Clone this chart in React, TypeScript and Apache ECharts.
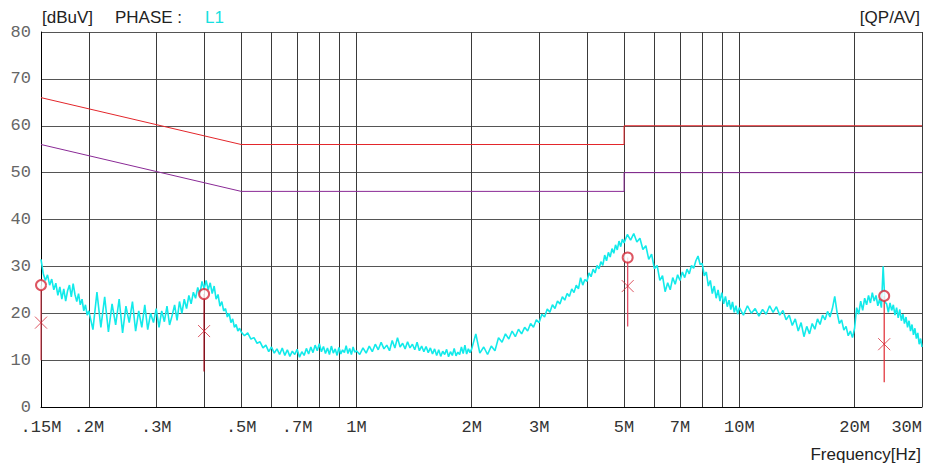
import React, { useEffect, useRef } from "react";
import * as echarts from "echarts";

// ---- axis definitions ----
const gridFreq = [0.15, 0.2, 0.3, 0.4, 0.5, 0.6, 0.7, 0.8, 0.9, 1, 2, 3, 4, 5, 6, 7, 8, 9, 10, 20, 30];
const labelFreq = [0.15, 0.2, 0.3, 0.5, 0.7, 1, 2, 3, 5, 7, 10, 20, 30];

// ---- limit lines (MHz, dBuV) ----
const qpLimitFreq = [0.15, 0.5, 5, 5, 30];
const qpLimitLevel = [66, 56, 56, 60, 60];
const avLimitFreq = [0.15, 0.5, 5, 5, 30];
const avLimitLevel = [56, 46, 46, 50, 50];

// ---- peak measurements ----
const peakFreq = [0.15, 0.4, 5.11, 23.9];
const peakQP = [26.0, 24.1, 31.9, 23.7];
const peakAV = [18.0, 16.2, 25.8, 13.4];
const peakStemLow = [10.0, 7.6, 17.2, 5.3];

// ---- measured trace (MHz) ----
const traceFreq = [
  0.150, 0.152, 0.154, 0.156, 0.158, 0.160, 0.162, 0.164, 0.166, 0.168,
  0.170, 0.172, 0.174, 0.176, 0.178, 0.180, 0.182, 0.184, 0.186, 0.188,
  0.190, 0.192, 0.194, 0.196, 0.198,
  0.200, 0.205, 0.210, 0.215, 0.220, 0.225, 0.230, 0.235, 0.240, 0.245,
  0.250, 0.255, 0.260, 0.265, 0.270, 0.275, 0.280, 0.285, 0.290, 0.295,
  0.300, 0.305, 0.310, 0.315, 0.320, 0.325, 0.330, 0.335, 0.340, 0.345,
  0.350, 0.355, 0.360, 0.365, 0.370, 0.375, 0.380, 0.385, 0.390, 0.395,
  0.400, 0.405, 0.410, 0.415, 0.420, 0.425, 0.430, 0.435, 0.440, 0.445,
  0.450, 0.455, 0.460, 0.465, 0.470, 0.475, 0.480, 0.485, 0.490, 0.495,
  0.50, 0.51, 0.52, 0.53, 0.54, 0.55, 0.56, 0.57, 0.58, 0.59,
  0.60, 0.61, 0.62, 0.63, 0.64, 0.65, 0.66, 0.67, 0.68, 0.69,
  0.70, 0.71, 0.72, 0.73, 0.74, 0.75, 0.76, 0.77, 0.78, 0.79,
  0.80, 0.81, 0.82, 0.83, 0.84, 0.85, 0.86, 0.87, 0.88, 0.89,
  0.90, 0.91, 0.92, 0.93, 0.94, 0.95, 0.96, 0.97, 0.98, 0.99,
  1.00, 1.02, 1.04, 1.06, 1.08, 1.10, 1.12, 1.14, 1.16, 1.18,
  1.20, 1.22, 1.24, 1.26, 1.28, 1.30, 1.32, 1.34, 1.36, 1.38,
  1.40, 1.42, 1.44, 1.46, 1.48, 1.50, 1.52, 1.54, 1.56, 1.58,
  1.60, 1.62, 1.64, 1.66, 1.68, 1.70, 1.72, 1.74, 1.76, 1.78,
  1.80, 1.82, 1.84, 1.86, 1.88, 1.90, 1.92, 1.94, 1.96, 1.98,
  2.00, 2.05, 2.10, 2.15, 2.20, 2.25, 2.30, 2.35, 2.40, 2.45,
  2.50, 2.55, 2.60, 2.65, 2.70, 2.75, 2.80, 2.85, 2.90, 2.95,
  3.00, 3.05, 3.10, 3.15, 3.20, 3.25, 3.30, 3.35, 3.40, 3.45,
  3.50, 3.55, 3.60, 3.65, 3.70, 3.75, 3.80, 3.85, 3.90, 3.95,
  4.00, 4.05, 4.10, 4.15, 4.20, 4.25, 4.30, 4.35, 4.40, 4.45,
  4.50, 4.55, 4.60, 4.65, 4.70, 4.75, 4.80, 4.85, 4.90, 4.95,
  5.0, 5.1, 5.2, 5.3, 5.4, 5.5, 5.6, 5.7, 5.8, 5.9,
  6.0, 6.1, 6.2, 6.3, 6.4, 6.5, 6.6, 6.7, 6.8, 6.9,
  7.0, 7.1, 7.2, 7.3, 7.4, 7.5, 7.6, 7.7, 7.8, 7.9,
  8.0, 8.1, 8.2, 8.3, 8.4, 8.5, 8.6, 8.7, 8.8, 8.9,
  9.0, 9.1, 9.2, 9.3, 9.4, 9.5, 9.6, 9.7, 9.8, 9.9,
  10.00, 10.25, 10.50, 10.75, 11.00, 11.25, 11.50, 11.75,
  12.00, 12.25, 12.50, 12.75, 13.00, 13.25, 13.50, 13.75,
  14.00, 14.25, 14.50, 14.75, 15.00, 15.25, 15.50, 15.75,
  16.00, 16.25, 16.50, 16.75, 17.00, 17.25, 17.50, 17.75,
  18.00, 18.25, 18.50, 18.75, 19.00, 19.25, 19.50, 19.75,
  20.00, 20.25, 20.50, 20.75, 21.00, 21.25, 21.50, 21.75,
  22.00, 22.25, 22.50, 22.75, 23.00, 23.25, 23.50, 23.75,
  24.00, 24.25, 24.50, 24.75, 25.00, 25.25, 25.50, 25.75,
  26.00, 26.25, 26.50, 26.75, 27.00, 27.25, 27.50, 27.75,
  28.00, 28.25, 28.50, 28.75, 29.00, 29.25, 29.50, 29.75,
  30.00,
];

// ---- measured trace (dBuV) ----
const traceLevel = [
  31.5, 28.5, 27.0, 28.2, 26.0, 27.3, 25.0, 26.4, 23.8, 25.6,
  23.0, 25.2, 22.6, 24.8, 26.0, 23.5, 26.3, 24.0, 22.5, 24.2,
  21.8, 23.0, 20.5, 21.8, 19.6,
  20.5, 16.5, 24.5, 17.0, 23.5, 16.0, 22.0, 17.5, 23.0, 15.8,
  21.5, 18.0, 22.5, 16.2, 20.5, 17.0, 21.8, 16.5, 20.0, 18.0,
  21.0, 17.0, 20.5, 18.2, 21.5, 17.5, 19.5, 21.8, 18.5, 22.5,
  20.0, 23.0, 21.0, 23.8, 22.0, 24.5, 23.2, 25.5, 24.0, 26.8,
  25.2, 27.0, 25.0, 26.5, 24.2, 25.8, 23.0, 24.0, 21.5, 22.5,
  20.5, 21.0, 19.2, 20.0, 18.0, 18.8, 17.0, 17.6, 16.2, 16.8,
  16.0, 15.2, 15.8, 14.5, 14.8, 13.6, 13.9, 12.6, 13.2, 11.8,
  12.8, 11.5, 12.4, 11.2, 12.6, 11.0, 12.2, 10.8, 11.9, 11.2,
  12.3, 10.6, 11.8, 11.0, 12.5, 11.3, 12.8, 11.6, 13.2, 12.0,
  13.5, 11.8, 12.9, 11.4, 12.6, 11.2, 13.0, 11.5, 12.4, 11.0,
  12.7, 11.3, 12.2, 11.6, 13.1, 11.4, 12.5, 11.2, 12.8, 11.7,
  12.0, 11.2, 12.6, 11.5, 13.0, 11.8, 13.4, 12.2, 13.8, 12.4,
  13.2, 12.0, 14.2, 12.6, 14.8, 12.8, 13.6, 12.4, 13.9, 12.6,
  13.4, 12.2, 13.8, 12.0, 13.0, 11.8, 12.9, 11.6, 12.6, 11.3,
  12.4, 11.0, 12.2, 10.8, 11.9, 11.2, 12.3, 10.7, 11.8, 11.0,
  12.5, 10.9, 11.7, 11.2, 12.8, 11.4, 13.2, 11.3, 12.4, 11.6,
  12.4, 15.6, 11.5, 12.8, 11.2, 13.0, 12.0, 14.8, 13.8, 15.6,
  14.5, 16.2, 15.0, 16.6, 15.6, 17.0, 16.2, 17.8, 17.0, 18.6,
  18.0, 19.8, 19.2, 20.9, 20.2, 21.8, 21.0, 22.6, 22.0, 23.5,
  22.8, 24.2, 23.6, 25.2, 24.4, 26.0, 25.2, 27.6, 26.0, 27.2,
  26.8, 28.6, 27.8, 29.4, 28.6, 30.2, 29.5, 31.0, 30.2, 32.4,
  31.2, 33.0, 32.0, 33.8, 32.8, 34.6, 33.5, 35.4, 34.2, 35.8,
  35.0, 36.8, 35.6, 37.0, 35.2, 36.0, 33.6, 34.4, 31.5, 32.6,
  29.5, 30.2, 27.0, 28.0, 24.6, 26.5, 25.0, 27.6, 26.2, 28.2,
  27.0, 28.8, 27.6, 29.4, 28.4, 30.2, 29.6, 31.2, 32.2, 30.4,
  30.6, 28.0, 28.8, 25.8, 27.0, 24.2, 25.8, 23.2, 25.0, 22.6,
  24.4, 22.0, 23.6, 21.4, 22.8, 20.8, 22.4, 20.2, 21.6, 19.8,
  21.2, 19.6, 21.6, 20.0, 21.0, 19.4, 20.8, 19.8,
  21.6, 20.2, 21.4, 19.6, 20.6, 18.6, 19.6, 17.4,
  18.8, 16.2, 18.0, 15.0, 17.2, 15.6, 17.8, 16.6,
  18.8, 17.6, 19.6, 18.6, 20.4, 19.2, 21.0, 23.6,
  20.2, 17.8, 18.6, 16.4, 17.2, 15.2, 16.2, 14.8,
  16.8, 21.2, 19.8, 22.6, 20.6, 23.2, 21.8, 23.8,
  22.2, 24.4, 22.6, 23.8, 21.6, 23.0, 21.2, 30.0,
  22.4, 22.0, 20.2, 22.2, 20.6, 21.8, 19.6, 21.2,
  19.0, 20.8, 18.4, 19.8, 17.8, 19.2, 17.0, 18.4,
  16.2, 17.6, 15.4, 16.8, 14.6, 15.8, 13.4, 14.6,
  12.8,
];

const stemColors = ["#e04a5a", "#a00010", "#e0405a", "#e02830"];
const monoFont = '"Liberation Mono", "Courier New", monospace';
const sansFont = '"Liberation Sans", Arial, sans-serif';

function fmtFreq(v: number): string {
  const s = String(Number(v.toPrecision(6)));
  return (s.startsWith("0.") ? s.slice(1) : s) + "M";
}

export default function App() {
  const ref = useRef<HTMLDivElement>(null);

  useEffect(() => {
    if (!ref.current) return;
    const chart = echarts.init(ref.current, undefined, { renderer: "svg" });

    const series: any[] = [];

    series.push({
      type: "line",
      name: "trace",
      data: traceFreq.map((f, i) => [f, traceLevel[i]]),
      showSymbol: false,
      lineStyle: { color: "#12eaea", width: 1.6 },
      z: 2,
      silent: true,
    });
    series.push({
      type: "line",
      name: "QP limit",
      data: qpLimitFreq.map((f, i) => [f, qpLimitLevel[i]]),
      showSymbol: false,
      lineStyle: { color: "#e3262b", width: 1 },
      z: 3,
      silent: true,
    });
    series.push({
      type: "line",
      name: "AV limit",
      data: avLimitFreq.map((f, i) => [f, avLimitLevel[i]]),
      showSymbol: false,
      lineStyle: { color: "#8a2a96", width: 1 },
      z: 3,
      silent: true,
    });
    peakFreq.forEach((f, i) => {
      series.push({
        type: "line",
        data: [
          [f, peakStemLow[i]],
          [f, peakQP[i]],
        ],
        showSymbol: false,
        lineStyle: { color: stemColors[i], width: 1.2 },
        z: 4,
        silent: true,
      });
    });
    series.push({
      type: "scatter",
      name: "QP",
      data: peakFreq.map((f, i) => [f, peakQP[i]]),
      symbol: "emptyCircle",
      symbolSize: 10,
      itemStyle: { color: "#d42a3a", borderColor: "#d42a3a", borderWidth: 1 },
      z: 6,
      silent: true,
    });
    series.push({
      type: "scatter",
      name: "AV",
      data: peakFreq.map((f, i) => [f, peakAV[i]]),
      symbol: "path://M0 0L10 10M10 0L0 10",
      symbolSize: 12,
      itemStyle: { color: "none", borderColor: "#d42a3a", borderWidth: 1 },
      z: 6,
      silent: true,
    });

    chart.setOption({
      animation: false,
      backgroundColor: "#ffffff",
      grid: { left: 41, right: 3, top: 32, bottom: 60, containLabel: false },
      xAxis: {
        type: "log",
        logBase: 10,
        min: 0.15,
        max: 30,
        axisLine: { show: true, lineStyle: { color: "#000", width: 1 } },
        axisTick: { show: false, customValues: gridFreq },
        axisLabel: {
          customValues: labelFreq,
          formatter: (v: number) => fmtFreq(v),
          margin: 12,
          fontFamily: monoFont,
          fontSize: 17,
          color: "#333",
          alignMaxLabel: "right",
          showMinLabel: true,
          showMaxLabel: true,
        },
        splitLine: { show: true, lineStyle: { color: "#3a3a3a", width: 1 } },
      },
      yAxis: {
        type: "value",
        min: 0,
        max: 80,
        interval: 10,
        axisLine: { show: true, lineStyle: { color: "#000", width: 1 } },
        axisTick: { show: false },
        axisLabel: {
          margin: 10,
          fontFamily: monoFont,
          fontSize: 17,
          color: "#666",
        },
        splitLine: { show: true, lineStyle: { color: "#555", width: 1 } },
      },
      graphic: [
        { type: "text", left: 42, top: 9, style: { text: "[dBuV]", font: `17px ${sansFont}`, fill: "#222" } },
        { type: "text", left: 115, top: 9, style: { text: "PHASE :", font: `17px ${sansFont}`, fill: "#222" } },
        { type: "text", left: 205, top: 9, style: { text: "L1", font: `17px ${sansFont}`, fill: "#16e0e0" } },
        { type: "text", right: 5, top: 9, style: { text: "[QP/AV]", font: `17px ${sansFont}`, fill: "#222" } },
        { type: "text", right: 4, top: 446, style: { text: "Frequency[Hz]", font: `17px ${sansFont}`, fill: "#222" } },
      ],
      series,
    });

    return () => chart.dispose();
  }, []);

  return (
    <div
      ref={ref}
      style={{ position: "absolute", left: 0, top: 0, width: 925, height: 467 }}
    />
  );
}
